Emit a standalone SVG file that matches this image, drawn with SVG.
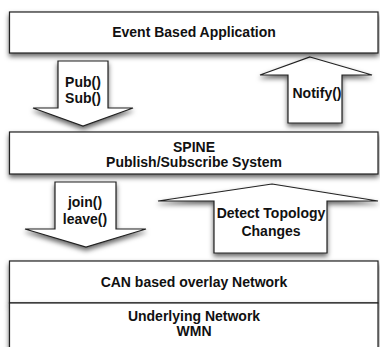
<svg xmlns="http://www.w3.org/2000/svg" width="380" height="347" viewBox="0 0 380 347">
<style>
.box{fill:#fff;stroke:#222;stroke-width:1.2;filter:url(#sh)}
.arr{fill:#fff;stroke:#222;stroke-width:1.2;filter:url(#sh)}
text{font-family:"Liberation Sans",Arial,sans-serif;font-weight:bold;font-size:14px;fill:#111;text-anchor:middle}
</style>
<defs>
<filter id="sh" x="-10%" y="-20%" width="120%" height="150%">
<feDropShadow dx="0" dy="3" stdDeviation="2.5" flood-color="#000" flood-opacity="0.6"/>
</filter>
</defs>
<rect width="380" height="347" fill="#fff"/>
<g id="connectors">
<g id="pubsub">
<polygon class="arr" points="58,61 108,61 108,108 133,108 83,126 33,108 58,108"/>
<text x="83" y="87">Pub()</text>
<text x="83" y="103">Sub()</text>
</g>
<g id="notify">
<polygon class="arr" points="310,57 372,75 342,75 342,123 288,123 288,75 260,75"/>
<text x="317" y="98">Notify()</text>
</g>
<g id="joinleave">
<polygon class="arr" points="55,182 116,182 116,229 146,229 86,247 25,229 55,229"/>
<text x="85" y="207">join()</text>
<text x="85" y="224">leave()</text>
</g>
<g id="detect">
<polygon class="arr" points="272,184 378,201 327,201 327,253 214,253 214,201 158,201"/>
<text x="271" y="218">Detect Topology</text>
<text x="271" y="236">Changes</text>
</g>
</g>
<g id="app">
<rect class="box" x="9.5" y="12" width="368.5" height="41"/>
<text x="194" y="37">Event Based Application</text>
</g>
<g id="spine">
<rect class="box" x="9.5" y="132" width="368.5" height="42"/>
<text x="194" y="152">SPINE</text>
<text x="194" y="167">Publish/Subscribe System</text>
</g>
<g id="can">
<rect class="box" x="9.5" y="261" width="368.5" height="42"/>
<text x="194" y="287">CAN based overlay Network</text>
</g>
<g id="underlying">
<rect class="box" x="9.5" y="303" width="368.5" height="55"/>
<text x="194" y="321">Underlying Network</text>
<text x="194" y="336">WMN</text>
</g>
</svg>
